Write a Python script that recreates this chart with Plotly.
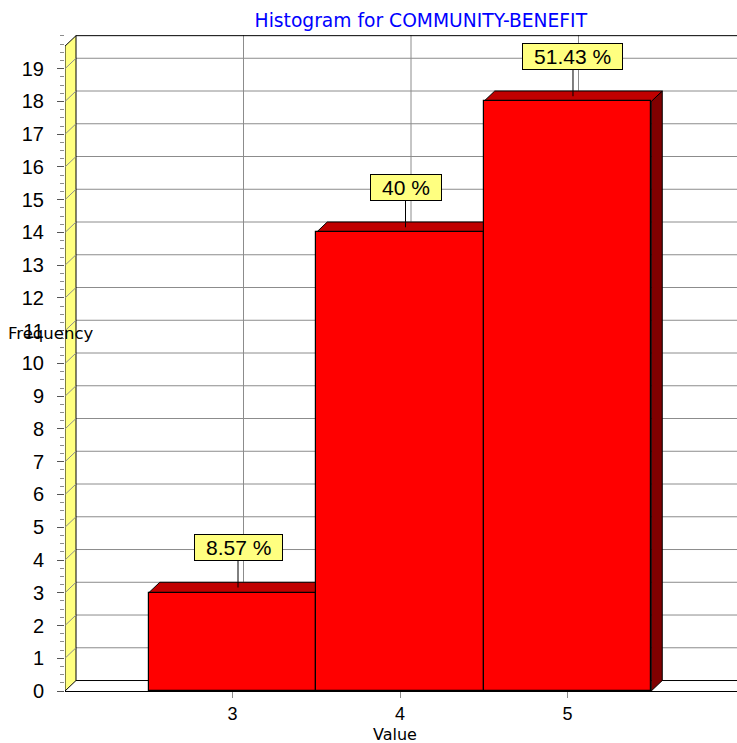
import plotly.graph_objects as go

# ---- data ----
categories = [3, 4, 5]
counts = [3, 14, 18]
y_tick_values = list(range(0, 20))
x_tick_values = [3, 4, 5]
title_text = "Histogram for COMMUNITY-BENEFIT"
x_title = "Value"
y_title = "Frequency"

total = sum(counts)
pct_labels = [f"{round(c / total * 100, 2):g} %" for c in counts]

# ---- style constants ----
X_RANGE = [2, 6.012]
Y_RANGE = [0, 20.03]
DX = 0.0657   # depth offset (x data units)
DY = 0.32     # depth offset (y data units)
BAR_W = 1.0
FRONT = "#FF0000"
TOP = "#C00000"
SIDE = "#800000"
WALL = "#FFFF80"
GRID = "#8C8C8C"
PAD = "\u00a0\u2009"

fig = go.Figure()
fig.add_trace(go.Bar(
    x=categories, y=counts, width=BAR_W,
    marker=dict(color=FRONT, line=dict(color="black", width=1.2)),
    hoverinfo="skip", showlegend=False,
))

shapes = []
xmax = X_RANGE[1]
ymax = Y_RANGE[1]
# back wall horizontal grid
for v in y_tick_values[1:]:
    shapes.append(dict(type="line", xref="x", yref="y", layer="below",
                       x0=2 + DX, y0=v + DY, x1=xmax, y1=v + DY,
                       line=dict(color=GRID, width=1)))
# vertical grid on back wall
for v in x_tick_values:
    shapes.append(dict(type="line", xref="x", yref="y", layer="below",
                       x0=v + DX, y0=DY, x1=v + DX, y1=ymax,
                       line=dict(color=GRID, width=1)))
# back wall top border & floor back line
shapes.append(dict(type="line", xref="x", yref="y", layer="below",
                   x0=2 + DX, y0=ymax - 0.02, x1=xmax, y1=ymax - 0.02,
                   line=dict(color="black", width=1)))
shapes.append(dict(type="line", xref="x", yref="y", layer="below",
                   x0=2 + DX, y0=DY, x1=xmax, y1=DY,
                   line=dict(color="black", width=1)))
# yellow side wall
shapes.append(dict(type="path", xref="x", yref="y", layer="below",
                   path=f"M 2 0 L 2 {ymax - DY - 0.02} L {2 + DX} {ymax - 0.02} L {2 + DX} {DY} Z",
                   fillcolor=WALL, line=dict(color="black", width=1)))
for v in y_tick_values[1:]:
    shapes.append(dict(type="line", xref="x", yref="y", layer="below",
                       x0=2, y0=v, x1=2 + DX, y1=v + DY,
                       line=dict(color=GRID, width=1)))
# 3D faces of bars
for c, h in zip(categories, counts):
    x0 = c - BAR_W / 2
    x1 = c + BAR_W / 2
    shapes.append(dict(type="path", xref="x", yref="y", layer="below",
                       path=f"M {x1} 0 L {x1} {h} L {x1 + DX} {h + DY} L {x1 + DX} {DY} Z",
                       fillcolor=SIDE, line=dict(color="black", width=1)))
    shapes.append(dict(type="path", xref="x", yref="y", layer="below",
                       path=f"M {x0} {h} L {x0 + DX} {h + DY} L {x1 + DX} {h + DY} L {x1} {h} Z",
                       fillcolor=TOP, line=dict(color="black", width=1)))

annotations = []
for c, h, lab in zip(categories, counts, pct_labels):
    annotations.append(dict(
        x=c + DX / 2, y=h + DY / 2, xref="x", yref="y",
        text=PAD + lab + PAD, showarrow=True, arrowhead=0, arrowwidth=1,
        arrowcolor="black", ax=0, ay=-40,
        bgcolor=WALL, bordercolor="black", borderwidth=1, borderpad=1,
        font=dict(family="Liberation Sans", size=21, color="black"),
    ))
annotations.append(dict(
    x=-0.0223, y=10.92, xref="paper", yref="y", text=y_title, showarrow=False,
    xanchor="center", yanchor="middle",
    font=dict(family="DejaVu Sans", size=16.5, color="black")))
annotations.append(dict(
    x=0.491, y=-0.067, xref="paper", yref="paper", text=x_title, showarrow=False,
    xanchor="center", yanchor="middle",
    font=dict(family="DejaVu Sans", size=16, color="black")))

fig.update_layout(
    width=737, height=743,
    margin=dict(l=65, r=0, t=35, b=52, pad=0),
    paper_bgcolor="white", plot_bgcolor="white",
    bargap=0,
    title=dict(text=title_text, x=0.571, xref="container", xanchor="center",
               y=1 - 20 / 743, yref="container", yanchor="middle",
               font=dict(family="DejaVu Sans", size=18.7, color="#0000FF")),
    shapes=shapes,
    annotations=annotations,
    xaxis=dict(range=X_RANGE, tickvals=x_tick_values, ticktext=[str(v) for v in x_tick_values],
               showgrid=False, zeroline=False, showline=True, linecolor="black", linewidth=1,
               ticks="outside", ticklen=6, tickcolor=GRID,
               tickfont=dict(family="Liberation Sans", size=18, color="black")),
    yaxis=dict(range=Y_RANGE, tickvals=y_tick_values, ticktext=[str(v) for v in y_tick_values],
               showgrid=False, zeroline=False, showline=False,
               ticks="outside", ticklen=7, tickcolor="#555555", ticklabelstandoff=9,
               minor=dict(dtick=0.25, tick0=0, ticks="outside", ticklen=4, tickcolor=GRID, showgrid=False),
               tickfont=dict(family="Liberation Sans", size=20, color="black")),
)

fig.write_html("out.html")
